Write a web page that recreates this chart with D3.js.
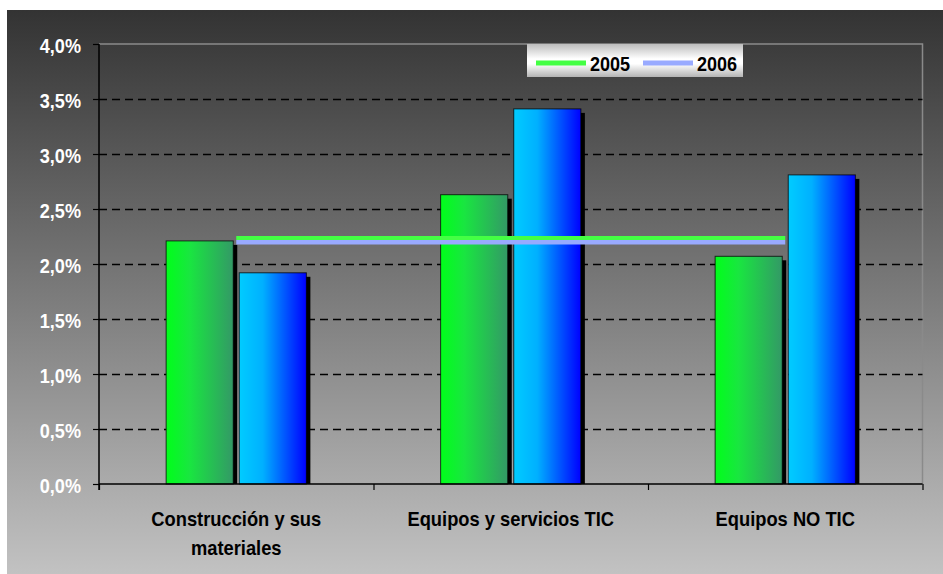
<!DOCTYPE html>
<html><head><meta charset="utf-8">
<script src="https://cdn.jsdelivr.net/npm/d3@7/dist/d3.min.js"></script>
<style>html,body{margin:0;padding:0;background:#fff;}svg{display:block;}</style>
</head><body>
<script>
const categories = [["Construcción y sus", "materiales"], ["Equipos y servicios TIC"], ["Equipos NO TIC"]];
const seriesNames = ["2005", "2006"];
const bars2005 = [2.21, 2.63, 2.07];
const bars2006 = [1.92, 3.41, 2.81];
const line2005 = [2.236, 2.236, 2.236];
const line2006 = [2.198, 2.198, 2.198];
const yTicks = [0, 0.5, 1, 1.5, 2, 2.5, 3, 3.5, 4];

const W = 943, H = 574;
const m = {left: 99, right: 943 - 922.5, top: 44, bottom: 574 - 484};
const svg = d3.select("body").append("svg").attr("width", W).attr("height", H);
const defs = svg.append("defs");

const bg = defs.append("linearGradient").attr("id", "bg").attr("x1", 0).attr("y1", 0).attr("x2", 0).attr("y2", 1);
bg.append("stop").attr("offset", "0%").attr("stop-color", "#333333");
bg.append("stop").attr("offset", "100%").attr("stop-color", "#c2c2c2");
const gG = defs.append("linearGradient").attr("id", "gG");
gG.append("stop").attr("offset", "0%").attr("stop-color", "#00ff1a");
gG.append("stop").attr("offset", "35%").attr("stop-color", "#19e640");
gG.append("stop").attr("offset", "100%").attr("stop-color", "#339966");
const gB = defs.append("linearGradient").attr("id", "gB");
gB.append("stop").attr("offset", "0%").attr("stop-color", "#00ccff");
gB.append("stop").attr("offset", "35%").attr("stop-color", "#00b0ff");
gB.append("stop").attr("offset", "100%").attr("stop-color", "#0000ff");
const gL = defs.append("linearGradient").attr("id", "gL").attr("x1", 0).attr("y1", 0).attr("x2", 0).attr("y2", 1);
gL.append("stop").attr("offset", "0%").attr("stop-color", "#bcbcbc");
gL.append("stop").attr("offset", "45%").attr("stop-color", "#ffffff");
gL.append("stop").attr("offset", "60%").attr("stop-color", "#ffffff");
gL.append("stop").attr("offset", "100%").attr("stop-color", "#b4b4b4");

svg.append("rect").attr("x", 7).attr("y", 10).attr("width", W - 7).attr("height", H - 10).attr("fill", "url(#bg)");

const x0 = d3.scaleBand().domain(d3.range(categories.length)).range([m.left, W - m.right]).padding(0);
const x1 = d3.scaleBand().domain(seriesNames).range([0, x0.bandwidth()]).paddingInner(0.082).paddingOuter(0.918);
const y = d3.scaleLinear().domain([0, 4]).range([H - m.bottom, m.top]);

const font = "'Liberation Sans', Arial, sans-serif";

// plot border (top/right)
svg.append("path")
  .attr("d", `M${m.left},${y(4)}H${W - m.right}V${y(0)}`)
  .attr("fill", "none").attr("stroke", "#8a8a8a").attr("stroke-width", 1.5);

// gridlines
svg.append("g").selectAll("line").data(yTicks.filter(d => d > 0 && d < 4)).join("line")
  .attr("x1", m.left).attr("x2", W - m.right)
  .attr("y1", d => Math.round(y(d)) + 0.5).attr("y2", d => Math.round(y(d)) + 0.5)
  .attr("stroke", "#000").attr("stroke-width", 1.3).attr("stroke-dasharray", "8,5");

// bars
const data = categories.map((c, i) => [
  {k: "2005", i, v: bars2005[i], f: "url(#gG)"},
  {k: "2006", i, v: bars2006[i], f: "url(#gB)"}
]).flat();
const bg2 = svg.append("g");
bg2.selectAll("rect.sh").data(data).join("rect")
  .attr("x", d => x0(d.i) + x1(d.k) + 4).attr("y", d => y(d.v) + 4)
  .attr("width", x1.bandwidth()).attr("height", d => y(0) - y(d.v) - 4)
  .attr("fill", "#000");
bg2.selectAll("rect.b").data(data).join("rect")
  .attr("x", d => x0(d.i) + x1(d.k)).attr("y", d => y(d.v))
  .attr("width", x1.bandwidth()).attr("height", d => y(0) - y(d.v))
  .attr("fill", d => d.f).attr("stroke", "#000").attr("stroke-opacity", 0.75).attr("stroke-width", 1);

// lines
const cx = i => x0(i) + x0.bandwidth() / 2;
const lineGen = d3.line().x((d, i) => cx(i)).y(d => y(d));
svg.append("path").datum(line2005).attr("d", lineGen).attr("fill", "none").attr("stroke", "#44ff44").attr("stroke-width", 4);
svg.append("path").datum(line2006).attr("d", lineGen).attr("fill", "none").attr("stroke", "#99aaff").attr("stroke-width", 4.5);

// axes
const yAxis = d3.axisLeft(y).tickValues(yTicks).tickSize(6).tickFormat(d => d3.format(".1f")(d).replace(".", ",") + "%");
const gy = svg.append("g").attr("transform", `translate(${m.left},0)`).call(yAxis);
gy.select(".domain").attr("stroke", "#000").attr("stroke-width", 1.5).attr("d", `M0,${y(4)}V${y(0) + 6}`);
gy.selectAll(".tick line").attr("stroke", "#000").attr("stroke-width", 1.2);
gy.selectAll(".tick text").attr("fill", "#fff").attr("font-family", font).attr("font-weight", "bold")
  .attr("font-size", "19.5px").attr("x", 0).attr("dy", "0.46em")
  .attr("transform", "translate(-18,0) scale(0.93,1)");

const xTickScale = d3.scaleLinear().domain([0, categories.length]).range([m.left, W - m.right]);
const xAxis = d3.axisBottom(xTickScale).tickValues(d3.range(categories.length + 1)).tickSize(6).tickFormat("");
const gx = svg.append("g").attr("transform", `translate(0,${y(0)})`).call(xAxis);
gx.select(".domain").attr("stroke", "#000").attr("stroke-width", 1.5).attr("d", `M${m.left},0H${W - m.right}`);
gx.selectAll(".tick line").attr("stroke", "#000").attr("stroke-width", 1.2);

// category labels
svg.append("g").selectAll("g").data(categories).join("g")
  .attr("transform", (d, i) => `translate(${cx(i)},526) scale(0.94,1)`)
  .append("text")
  .attr("text-anchor", "middle").attr("font-family", font).attr("font-weight", "bold")
  .attr("font-size", "19.5px").attr("fill", "#000")
  .each(function(d) {
    d3.select(this).selectAll("tspan").data(d).join("tspan")
      .attr("x", 0).attr("dy", (t, j) => j === 0 ? 0 : 29).text(t => t);
  });

// legend
const lg = svg.append("g");
lg.append("rect").attr("x", 527).attr("y", 44).attr("width", 216).attr("height", 33).attr("fill", "url(#gL)");
const legendItems = [{n: seriesNames[0], c: "#44ff44", x: 536}, {n: seriesNames[1], c: "#99aaff", x: 643}];
legendItems.forEach(it => {
  lg.append("line").attr("x1", it.x).attr("x2", it.x + 50).attr("y1", 63).attr("y2", 63)
    .attr("stroke", it.c).attr("stroke-width", 5);
  lg.append("text").attr("transform", `translate(${it.x + 54},70.5) scale(0.86,1)`)
    .attr("font-family", font).attr("font-weight", "bold")
    .attr("font-size", "21px").attr("fill", "#000").text(it.n);
});
</script>
</body></html>
